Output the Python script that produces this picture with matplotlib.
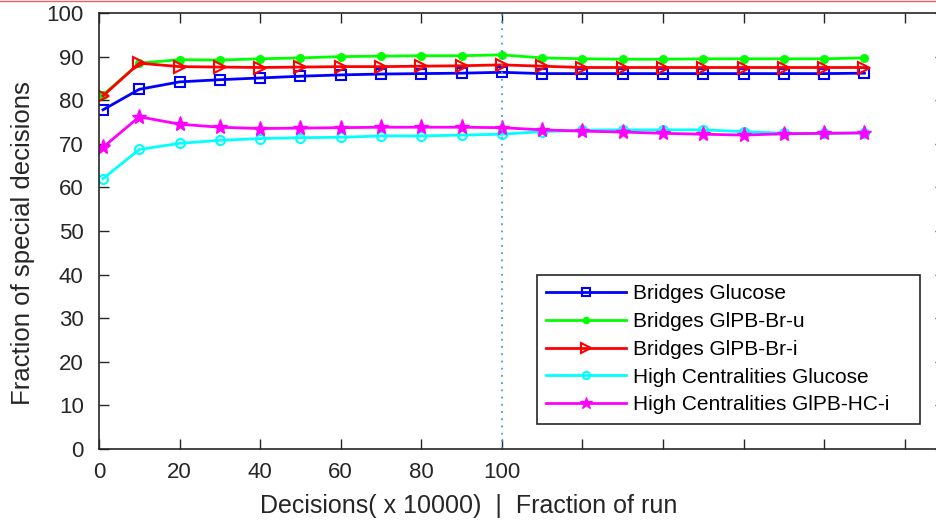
import matplotlib
matplotlib.use("Agg")
import matplotlib.pyplot as plt
from matplotlib.lines import Line2D

plt.rcParams['font.family'] = ['Liberation Sans', 'DejaVu Sans']

x = [1, 10, 20, 30, 40, 50, 60, 70, 80, 90, 100, 110, 120, 130, 140, 150, 160, 170, 180, 190]

bridges_glucose = [77.8, 82.5, 84.2, 84.7, 85.1, 85.5, 85.8, 86.0, 86.1, 86.2, 86.4,
                   86.1, 86.1, 86.1, 86.1, 86.1, 86.1, 86.1, 86.1, 86.2]
bridges_glpb_u = [81.2, 88.5, 89.3, 89.2, 89.5, 89.7, 90.0, 90.1, 90.2, 90.2, 90.4,
                  89.7, 89.5, 89.4, 89.4, 89.5, 89.5, 89.5, 89.5, 89.7]
bridges_glpb_i = [81.0, 88.5, 87.7, 87.6, 87.5, 87.6, 87.7, 87.7, 87.8, 87.9, 88.1,
                  87.8, 87.5, 87.5, 87.5, 87.5, 87.5, 87.5, 87.5, 87.5]
hc_glucose = [62.0, 68.7, 70.1, 70.8, 71.2, 71.4, 71.5, 71.8, 71.8, 72.0, 72.2,
              72.8, 73.1, 73.2, 73.2, 73.2, 72.8, 72.4, 72.4, 72.5]
hc_glpb_i = [69.2, 76.2, 74.5, 73.8, 73.5, 73.6, 73.7, 73.8, 73.8, 73.8, 73.7,
             73.2, 72.9, 72.7, 72.4, 72.2, 72.0, 72.3, 72.4, 72.5]

labels = ["Bridges Glucose", "Bridges GlPB-Br-u", "Bridges GlPB-Br-i",
          "High Centralities Glucose", "High Centralities GlPB-HC-i"]

xticks = [0, 20, 40, 60, 80, 100, 120, 140, 160, 180, 200]
xticklabels = ["0", "20", "40", "60", "80", "100", "", "", "", "", ""]
yticks = [0, 10, 20, 30, 40, 50, 60, 70, 80, 90, 100]
vline_x = 100

W, H = 937, 525
fig = plt.figure(figsize=(W / 100, H / 100), dpi=100)
left, right, top, bottom = 99, 945, 13, 449
ax = fig.add_axes([left / W, 1 - bottom / H, (right - left) / W, (bottom - top) / H])

lw = 2.0
mew = 1.5
ax.plot(x, bridges_glucose, color=(0, 0, 1), lw=lw, marker='s', ms=6.5,
        mfc='none', mec=(0, 0, 1), mew=mew, label=labels[0])
ax.plot(x, bridges_glpb_u, color=(0, 1, 0), lw=lw, marker='o', ms=5.5,
        mfc=(0, 1, 0), mec=(0, 1, 0), label=labels[1])
ax.plot(x, bridges_glpb_i, color=(1, 0, 0), lw=lw, marker='>', ms=8.5,
        mfc='none', mec=(1, 0, 0), mew=mew, label=labels[2])
ax.plot(x, hc_glucose, color=(0, 1, 1), lw=lw, marker='o', ms=6.5,
        mfc='none', mec=(0, 1, 1), mew=mew, label=labels[3])
ax.plot(x, hc_glpb_i, color=(1, 0, 1), lw=lw, marker='*', ms=11,
        mfc=(1, 0, 1), mec=(1, 0, 1), mew=1.0, label=labels[4])

ax.axvline(vline_x, color='#4a9bd1', lw=1.3, ls=(0, (1, 3)))

ax.set_xlim(0, 210)
ax.set_ylim(0, 100)
ax.set_xticks(xticks)
ax.set_xticklabels(xticklabels)
ax.set_yticks(yticks)
ax.tick_params(direction='in', length=7, width=1, colors='#262626',
               labelsize=16, top=True, right=True)
ax.tick_params(axis='y', pad=11)
ax.tick_params(axis='x', pad=9)
for s in ax.spines.values():
    s.set_color('#262626')
    s.set_linewidth(1.2)

x0 = (537 - left) / (right - left)
x1 = (920 - left) / (right - left)
y1 = (bottom - 275) / (bottom - top)
y0 = (bottom - 423) / (bottom - top)
leg = ax.legend(loc='upper left', bbox_to_anchor=(x0, y0, x1 - x0, y1 - y0), mode='expand',
                borderaxespad=0, fontsize=15, frameon=True, fancybox=False,
                handlelength=3.8, handletextpad=0.35, labelspacing=0.42,
                borderpad=0.45, markerscale=0.8)
leg.get_frame().set_edgecolor('#262626')
leg.get_frame().set_linewidth(1.2)
leg.get_frame().set_alpha(1)

fig.text(469 / W, 1 - 506 / H, "Decisions( x 10000)  |  Fraction of run",
         ha='center', va='center', fontsize=18, color='#262626')
fig.text(23 / W, 1 - 243 / H, "Fraction of special decisions",
         ha='center', va='center', fontsize=18.5, rotation=90, color='#262626')

fig.add_artist(Line2D([0, 1], [1 - 0.5 / H, 1 - 0.5 / H], color='#f06060', lw=1))

fig.savefig("out.png", dpi=100)
